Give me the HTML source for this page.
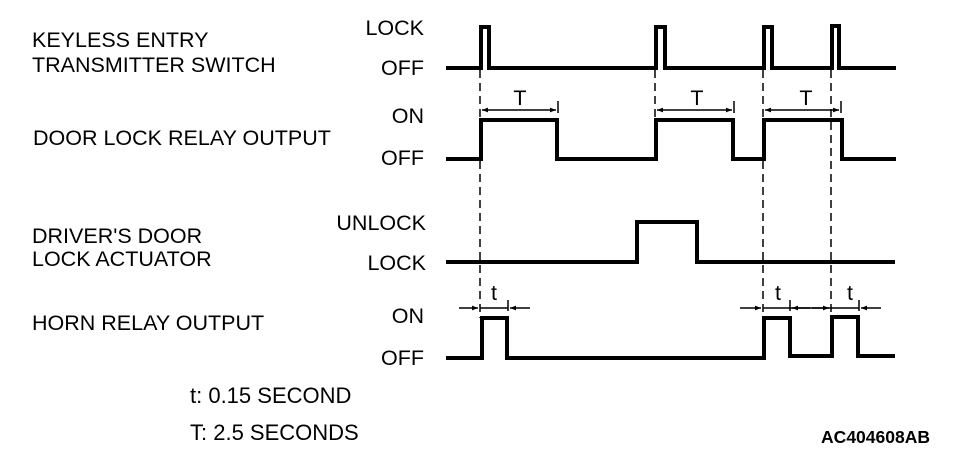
<!DOCTYPE html>
<html><head><meta charset="utf-8"><style>
html,body{margin:0;padding:0;background:#fff;}
svg{display:block;}
text{font-family:"Liberation Sans",Arial,sans-serif;font-size:21.5px;fill:#000;}
</style></head><body>
<svg width="960" height="458" viewBox="0 0 960 458" xmlns="http://www.w3.org/2000/svg">
<defs>
<marker id="a" viewBox="0 0 10 10" refX="10" refY="5" markerWidth="4" markerHeight="4" orient="auto-start-reverse"><path d="M0,1 L10,5 L0,9 z" fill="#000"/></marker>
</defs>
<g>
<text x="32" y="47">KEYLESS ENTRY</text>
<text x="32" y="72">TRANSMITTER SWITCH</text>
<text x="33" y="145">DOOR LOCK RELAY OUTPUT</text>
<text x="32" y="243">DRIVER'S DOOR</text>
<text x="32" y="266">LOCK ACTUATOR</text>
<text x="32" y="330">HORN RELAY OUTPUT</text>
<g text-anchor="end">
<text x="424" y="35">LOCK</text>
<text x="424" y="75">OFF</text>
<text x="424" y="123">ON</text>
<text x="424" y="165">OFF</text>
<text x="426" y="230">UNLOCK</text>
<text x="426" y="270">LOCK</text>
<text x="424" y="323">ON</text>
<text x="424" y="365">OFF</text>
</g>
<text x="190" y="403" style="font-size:22px">t: 0.15 SECOND</text>
<text x="190" y="440" style="font-size:22px">T: 2.5 SECONDS</text>
<text x="930" y="443" text-anchor="end" style="font-size:17.5px;font-weight:bold">AC404608AB</text>
</g>
<g fill="none" stroke="#000" stroke-width="4" stroke-linejoin="miter">
<polyline points="446,68 481,68 481,27 489,27 489,68 656,68 656,27 665,27 665,68 764,68 764,27 772,27 772,68 832,68 832,26 839,26 839,68 896,68"/>
<polyline points="446,159 481,159 481,120 557,120 557,159 656,159 656,120 733,120 733,159 764,159 764,120 842,120 842,159 896,159"/>
<polyline points="446,262 637,262 637,222 697,222 697,262 895,262"/>
<polyline points="446,358 482,358 482,318 507,318 507,358 764,358 764,318 790,318 790,356 832,356 832,317 858,317 858,356 895,356"/>
</g>
<g stroke="#000" stroke-width="1.5" stroke-dasharray="8,5">
<line x1="480" y1="70" x2="480" y2="318"/>
<line x1="655" y1="70" x2="655" y2="120"/>
<line x1="763" y1="70" x2="763" y2="318"/>
<line x1="831" y1="70" x2="831" y2="318"/>
</g>
<g stroke="#000" stroke-width="1.5">
<line x1="558" y1="101" x2="558" y2="113"/>
<line x1="734" y1="101" x2="734" y2="113"/>
<line x1="841" y1="101" x2="841" y2="113"/>
<line x1="482" y1="110" x2="556" y2="110" marker-start="url(#a)" marker-end="url(#a)"/>
<line x1="657" y1="110" x2="732" y2="110" marker-start="url(#a)" marker-end="url(#a)"/>
<line x1="765" y1="110" x2="839" y2="110" marker-start="url(#a)" marker-end="url(#a)"/>
<line x1="508" y1="300" x2="508" y2="311"/>
<line x1="790" y1="300" x2="790" y2="311"/>
<line x1="859" y1="300" x2="859" y2="311"/>
<line x1="459" y1="308" x2="478" y2="308" marker-end="url(#a)"/>
<line x1="480" y1="308" x2="508" y2="308"/>
<line x1="530" y1="308" x2="510" y2="308" marker-end="url(#a)"/>
<line x1="740" y1="308" x2="761" y2="308" marker-end="url(#a)"/>
<line x1="763" y1="308" x2="831" y2="308"/>
<line x1="810" y1="308" x2="792" y2="308" marker-end="url(#a)"/>
<line x1="812" y1="308" x2="829" y2="308" marker-end="url(#a)"/>
<line x1="831" y1="308" x2="859" y2="308"/>
<line x1="881" y1="308" x2="861" y2="308" marker-end="url(#a)"/>
</g>
<g text-anchor="middle" style="font-size:24px">
<text x="520" y="105">T</text>
<text x="697" y="105">T</text>
<text x="806" y="105">T</text>
</g>
<g text-anchor="middle" style="font-size:22px">
<text x="494" y="300">t</text>
<text x="778" y="300">t</text>
<text x="850" y="300">t</text>
</g>
</svg>
</body></html>
